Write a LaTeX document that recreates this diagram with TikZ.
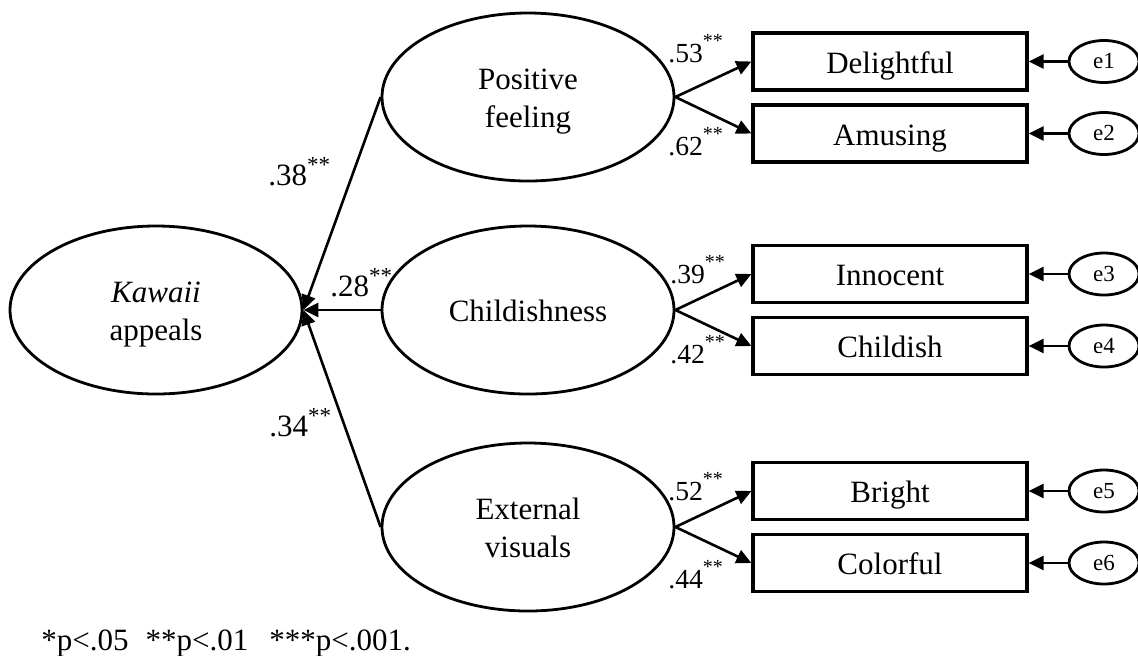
\documentclass[tikz,border=0pt]{standalone}
\usepackage{fontspec}
\setmainfont{Liberation Serif}
\usetikzlibrary{shapes.geometric,arrows.meta}

% type sizes
\newcommand{\bigsize}{\fontsize{15.5}{19}\selectfont}
\newcommand{\coefsize}{\fontsize{13.8}{16}\selectfont}
% significance marks
\newcommand{\sstars}{\raisebox{7.2pt}{\fontsize{10}{10}\selectfont **}}
\newcommand{\bstars}{\raisebox{6.2pt}{\fontsize{11.5}{12}\selectfont **}}
% fixed first-line height and last-line depth for two-line latent labels
\newcommand{\lineone}[1]{\rule{0pt}{15pt}#1}
\newcommand{\linetwo}[1]{#1\rule[-3.5pt]{0pt}{3.5pt}}

\tikzset{
  latent/.style={ellipse, draw, line width=1.4pt, minimum width=146pt,
    minimum height=84pt, inner sep=0pt, align=center, font=\bigsize},
  item/.style={rectangle, draw, line width=1.6pt, minimum width=137pt,
    minimum height=28.5pt, inner sep=0pt, font=\bigsize,
    text height=11.8pt, text depth=0pt},
  err/.style={ellipse, draw, line width=1.4pt, minimum width=35pt,
    minimum height=21pt, inner sep=0pt, font=\fontsize{11.5}{12}\selectfont,
    text height=7pt, text depth=0pt},
  link/.style={draw, line width=1.3pt, -{Triangle[length=7.5pt,width=7pt]}},
  coef/.style={anchor=base west, inner sep=0pt, font=\coefsize},
  bcoef/.style={anchor=base west, inner sep=0pt, font=\bigsize}
}

\begin{document}
\begin{tikzpicture}[x=0.5pt, y=-0.5pt]
\useasboundingbox (0,0) rectangle (1138,655);

% latent variables
\node[latent] (kawaii) at (156,310) {\lineone{\textit{Kawaii}}\\\linetwo{appeals}};
\node[latent] (pos) at (528,97) {\lineone{Positive}\\\linetwo{feeling}};
\node[latent, text height=11.8pt, text depth=0pt] (child) at (528,310) {Childishness};
\node[latent] (ext) at (528,527) {\lineone{External}\\\linetwo{visuals}};

% observed items
\node[item] (del) at (890,61.5) {Delightful};
\node[item] (amu) at (890,133.5) {Amusing};
\node[item] (inn) at (890,274) {Innocent};
\node[item] (chi) at (890,346) {Childish};
\node[item] (bri) at (890,491) {Bright};
\node[item] (col) at (890,563) {Colorful};

% error terms
\node[err] (e1) at (1104,61.5) {e1};
\node[err] (e2) at (1104,133.5) {e2};
\node[err] (e3) at (1104,274) {e3};
\node[err] (e4) at (1104,346) {e4};
\node[err] (e5) at (1104,491) {e5};
\node[err] (e6) at (1104,563) {e6};

% structural paths
\draw[link] (pos.west) -- (kawaii.east);
\draw[link] (child.west) -- (kawaii.east);
\draw[link] (ext.west) -- (kawaii.east);

% measurement paths
\draw[link] (pos.east) -- (del.west);
\draw[link] (pos.east) -- (amu.west);
\draw[link] (child.east) -- (inn.west);
\draw[link] (child.east) -- (chi.west);
\draw[link] (ext.east) -- (bri.west);
\draw[link] (ext.east) -- (col.west);

% error paths
\draw[link] (e1.west) -- (del.east);
\draw[link] (e2.west) -- (amu.east);
\draw[link] (e3.west) -- (inn.east);
\draw[link] (e4.west) -- (chi.east);
\draw[link] (e5.west) -- (bri.east);
\draw[link] (e6.west) -- (col.east);

% path coefficients
\node[bcoef] (c38) at (268,185) {.38\bstars};
\node[bcoef] (c28) at (330,296) {.28\bstars};
\node[bcoef] (c34) at (269,436) {.34\bstars};

\node[coef] (c53) at (668,62) {.53\sstars};
\node[coef] (c62) at (668,155) {.62\sstars};
\node[coef] (c39) at (670,283) {.39\sstars};
\node[coef] (c42) at (670,363) {.42\sstars};
\node[coef] (c52) at (668,500) {.52\sstars};
\node[coef] (c44) at (668,588) {.44\sstars};

% significance note
\node[anchor=base west, inner sep=0pt, font=\bigsize] (note) at (41,650)
  {*p<.05\hspace{8.5pt}**p<.01\hspace{10.5pt}***p<.001.};
\end{tikzpicture}
\end{document}
